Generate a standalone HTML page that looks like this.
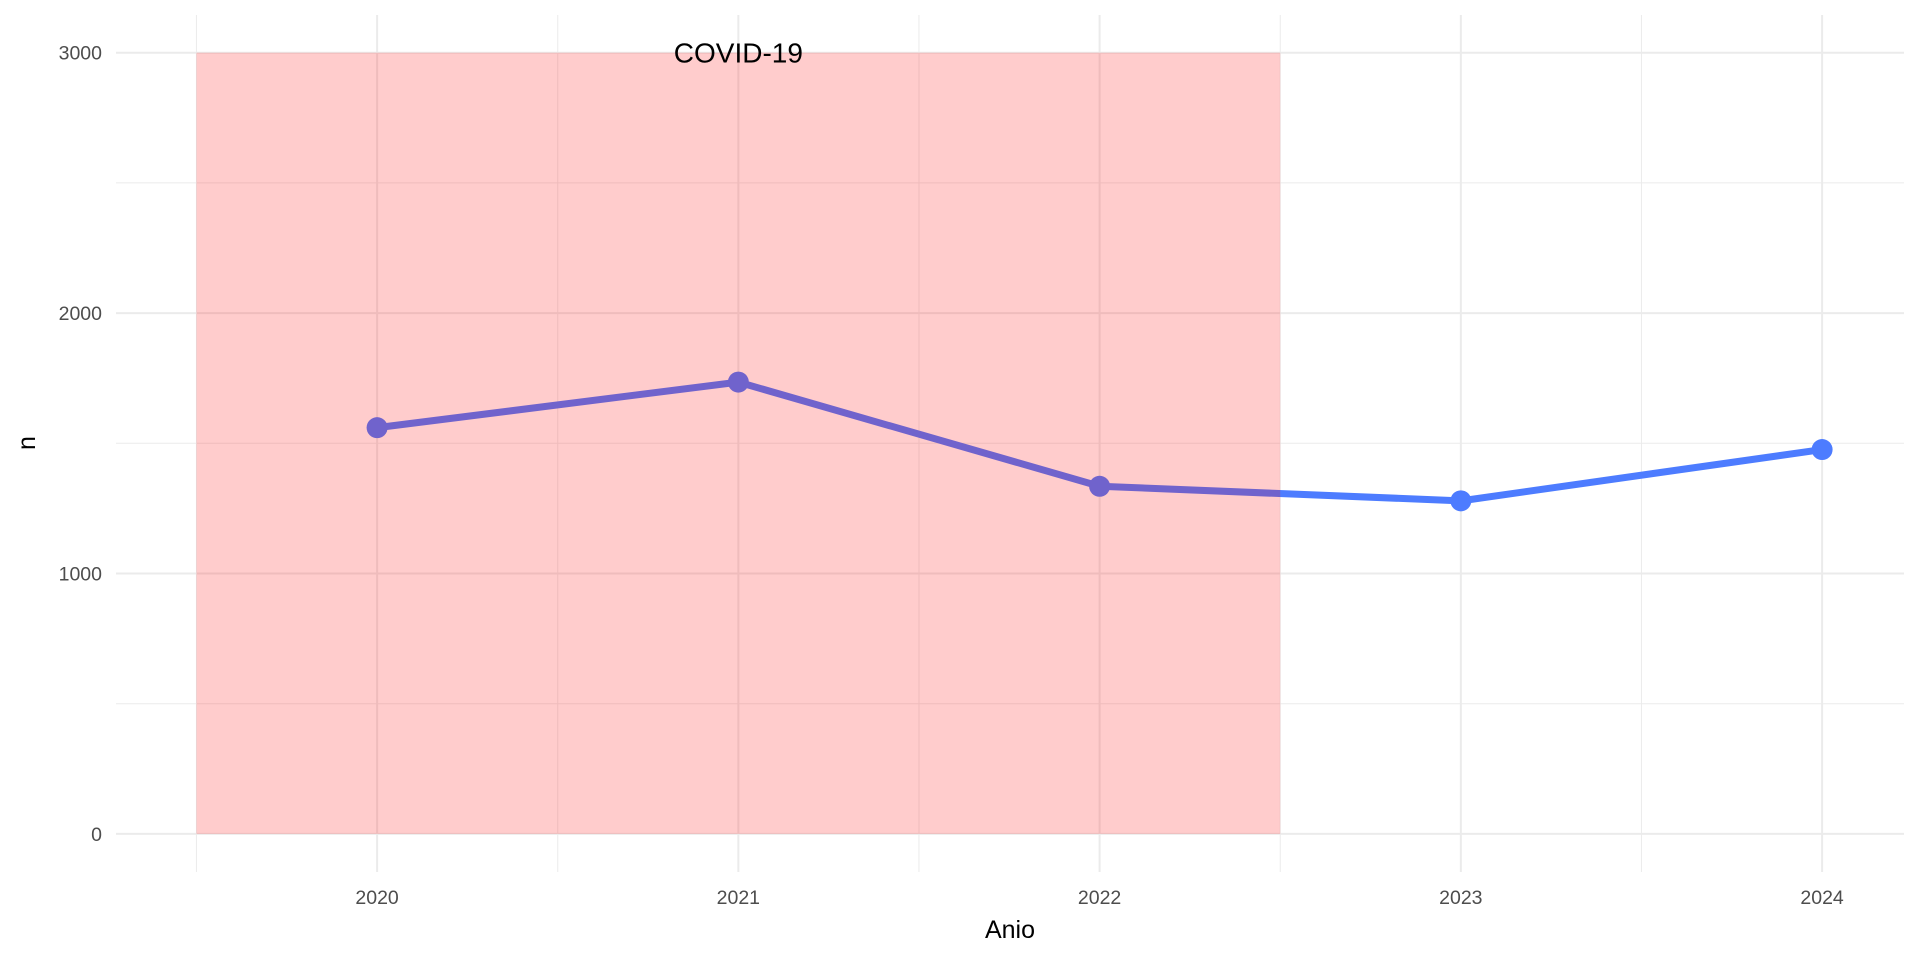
<!DOCTYPE html>
<html><head><meta charset="utf-8"><style>
html,body{margin:0;padding:0;background:#fff;}
svg{display:block;font-family:"Liberation Sans",sans-serif;}
</style></head><body>
<svg id="chart" width="1920" height="960" viewBox="0 0 1920 960" xmlns="http://www.w3.org/2000/svg">
<g id="grid"></g>
<g id="series"></g>
<g id="overlay"></g>
<g id="axes"></g>
<text x="1010" y="938" font-size="25" text-anchor="middle" fill="#000">Anio</text>
<text x="0" y="0" font-size="25" text-anchor="middle" fill="#000" transform="translate(35,443) rotate(-90)">n</text>
</svg>
<script>
const years = [2020, 2021, 2022, 2023, 2024];
const counts = [1560, 1735, 1335, 1279, 1476];
const yTicks = [0, 1000, 2000, 3000];
const yMinor = [500, 1500, 2500];
const covidStart = 2019.5, covidEnd = 2022.5, covidTop = 3000;
const covidLabel = "COVID-19";

const NS = "http://www.w3.org/2000/svg";
const px = {left:116, right:1904, top:15, bottom:872};
function xs(v){ return 377.1 + (v - 2020) * (1822.1 - 377.1) / 4; }
function ys(v){ return 833.9 - v * (833.9 - 52.7) / 3000; }
function mk(tag, attrs, parent){ const e=document.createElementNS(NS,tag); for(const k in attrs) e.setAttribute(k,attrs[k]); parent.appendChild(e); return e; }

const grid = document.getElementById('grid');
yMinor.forEach(v=>{
  const l = mk('line',{x1:px.left,x2:px.right,y1:ys(v),y2:ys(v),stroke:'#ebebeb','stroke-width':1},grid);
  
  
});
for(let i=0;i<years.length+1;i++){
  const v = years[0]-0.5+i;
  const l = mk('line',{x1:xs(v),x2:xs(v),y1:px.top,y2:px.bottom,stroke:'#ebebeb','stroke-width':1},grid);
  
  
}
yTicks.forEach(v=>{
  const l = mk('line',{x1:px.left,x2:px.right,y1:ys(v),y2:ys(v),stroke:'#ebebeb','stroke-width':2},grid);
  
  
});
years.forEach(v=>{
  const l = mk('line',{x1:xs(v),x2:xs(v),y1:px.top,y2:px.bottom,stroke:'#ebebeb','stroke-width':2},grid);
  
  
});

const series = document.getElementById('series');
const pts = years.map((y,i)=>xs(y)+','+ys(counts[i])).join(' ');
const line = mk('polyline',{points:pts,fill:'none',stroke:'#4d7cff','stroke-width':7,'stroke-linejoin':'round'},series);


years.forEach((y,i)=>{
  const c = mk('circle',{cx:xs(y),cy:ys(counts[i]),r:10.5,fill:'#4d7cff'},series);
  
  
});

const ov = document.getElementById('overlay');
const rect = mk('rect',{x:xs(covidStart),y:ys(covidTop),width:xs(covidEnd)-xs(covidStart),height:ys(0)-ys(covidTop),fill:'#ff0000','fill-opacity':0.2},ov);


const lab = mk('text',{x:xs(2021),y:ys(covidTop)+10,'font-size':28,'text-anchor':'middle',fill:'#000'},ov);
lab.textContent = covidLabel;



const axes = document.getElementById('axes');
yTicks.forEach(v=>{
  const t = mk('text',{x:102,y:ys(v)+7,'font-size':19.5,'text-anchor':'end',fill:'#4d4d4d'},axes);
  t.textContent = v;
  
  
});
years.forEach(v=>{
  const t = mk('text',{x:xs(v),y:904,'font-size':19.5,'text-anchor':'middle',fill:'#4d4d4d'},axes);
  t.textContent = v;
  
  
});
</script>
</body></html>
